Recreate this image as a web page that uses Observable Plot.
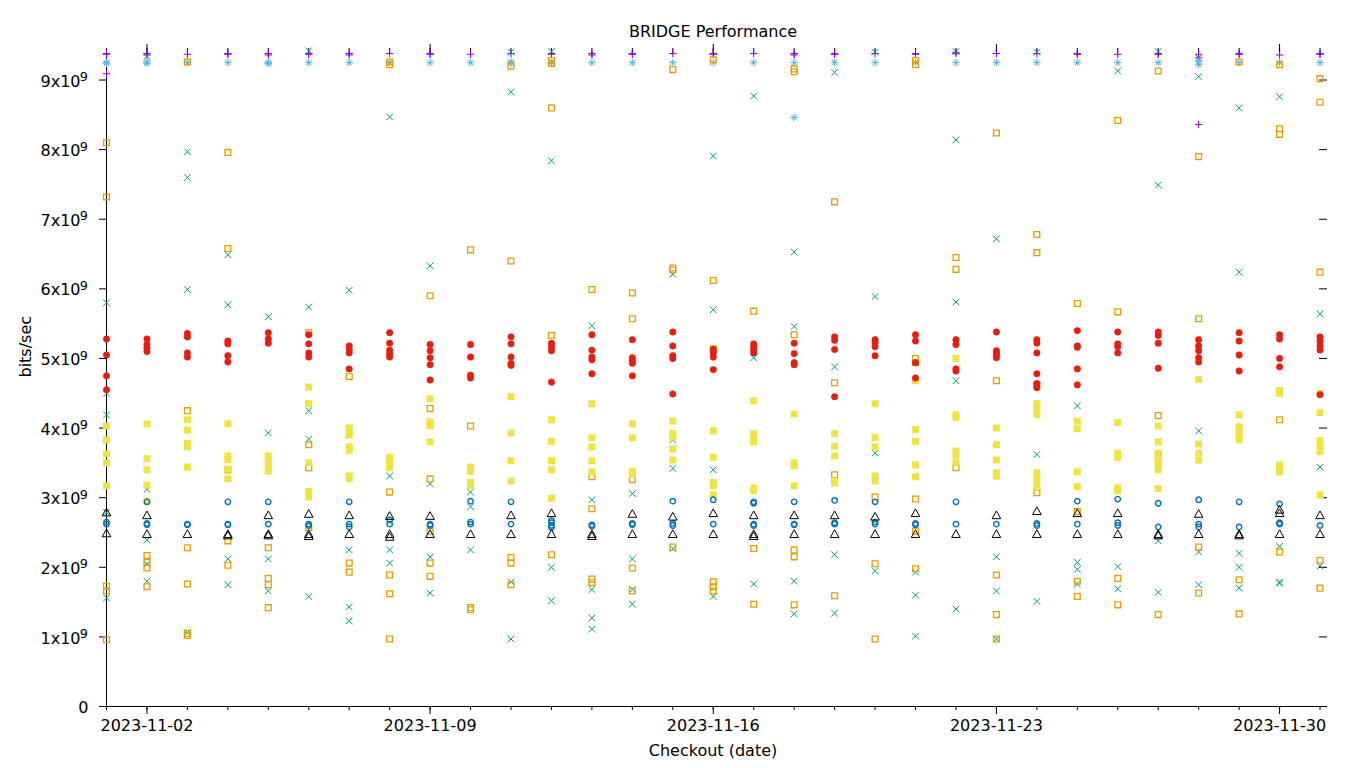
<!DOCTYPE html>
<html><head><meta charset="utf-8">
<script src="https://cdn.jsdelivr.net/npm/d3@7"></script>
<script src="https://cdn.jsdelivr.net/npm/@observablehq/plot@0.6"></script>
<style>html,body{margin:0;padding:0;background:#fff} svg{display:block}</style>
</head><body><div id="chart"></div>
<script>
// ---------------- data ----------------
const title = "BRIDGE Performance";
const xLabel = "Checkout (date)";
const yLabel = "bits/sec";
const days = ["2023-11-01","2023-11-02","2023-11-03","2023-11-04","2023-11-05","2023-11-06","2023-11-07","2023-11-08","2023-11-09","2023-11-10","2023-11-11","2023-11-12","2023-11-13","2023-11-14","2023-11-15","2023-11-16","2023-11-17","2023-11-18","2023-11-19","2023-11-20","2023-11-21","2023-11-22","2023-11-23","2023-11-24","2023-11-25","2023-11-26","2023-11-27","2023-11-28","2023-11-29","2023-11-30","2023-12-01"];
const xTickLabels = ["2023-11-02","2023-11-09","2023-11-16","2023-11-23","2023-11-30"];
const yTicks = [0,1e9,2e9,3e9,4e9,5e9,6e9,7e9,8e9,9e9];
const yTickLabels = ["0","1x10^9","2x10^9","3x10^9","4x10^9","5x10^9","6x10^9","7x10^9","8x10^9","9x10^9"];
const UNIT = 1e9; // series values below are in units of 10^9 bits/sec, one list per day

const purple = [[9.38,9.37,9.09],[9.38,9.36],[9.37],[9.38,9.37],[9.38,9.36],[9.38,9.37],[9.38,9.36],[9.38],[9.38,9.37],[9.37],[9.38],[9.38,9.37],[9.38,9.36],[9.38,9.37],[9.38],[9.38,9.37],[9.38],[9.38,9.36],[9.38,9.37],[9.38],[9.38,9.37],[9.40,9.38],[9.38],[9.38],[9.38,9.37],[9.37],[9.38,9.37],[9.37,9.32,8.36],[9.38,9.37],[9.36],[9.38,9.37]];
const green = [[5.80,4.50,4.19,2.79,1.56],[9.34,3.12,2.39,2.05,1.80],[7.97,7.60,5.99,1.06],[6.49,5.77,2.12,1.75],[5.60,3.93,2.12,1.66],[9.42,5.74,4.25,3.84,1.58],[5.98,2.25,1.43,1.23],[8.47,3.31,2.25,2.06],[6.33,3.20,2.15,1.63],[3.08,2.87,2.25],[9.40,8.83,1.79,0.97],[9.41,7.84,2.00,1.52],[5.47,2.97,1.68,1.27,1.11],[3.06,2.12,1.68,1.47],[6.21,3.83,3.42,2.27],[7.91,5.70,3.40,1.58],[8.77,5.01,1.76],[6.53,5.46,1.80,1.33],[9.11,4.88,2.18,1.34],[9.40,5.89,3.64,1.95],[1.93,1.60,1.01],[9.41,8.14,5.81,4.68,1.40],[6.72,2.15,1.66,0.97],[9.40,3.62,1.51],[4.32,2.07,1.97,1.76],[9.13,2.01,1.69],[9.41,7.49,2.38,1.64],[9.32,9.05,3.96,2.22,1.75],[8.60,6.24,2.20,2.00,1.70],[8.76,2.30,1.79,1.77],[5.64,3.44,2.02]];
const lightBlue = [[9.25,9.24],[9.26,9.24],[9.25],[9.25],[9.25,9.24],[9.25],[9.25],[9.25],[9.25],[9.25],[9.26,9.24],[9.25],[9.25],[9.25],[9.25],[9.25],[9.25],[9.25,8.46],[9.25],[9.25],[9.25],[9.25],[9.25],[9.25],[9.25],[9.25],[9.25],[9.27,9.22],[9.25],[9.25],[9.25]];
const orange = [[8.10,7.32,1.73,1.66,0.96],[2.17,2.07,1.99,1.72],[9.26,4.25,2.28,1.76,1.05,1.02],[7.96,6.58,3.40,2.38,2.03],[2.28,1.84,1.75,1.42],[5.37,3.76,3.43,2.57],[4.74,2.06,1.93],[9.26,9.22,3.08,1.89,1.62,0.97],[5.90,4.28,3.27,2.52,2.06,1.87],[6.56,4.03,1.42,1.39],[9.20,6.40,2.14,2.06,1.75],[9.28,9.24,8.60,5.33,2.18],[5.99,3.30,2.84,1.83,1.78],[5.94,5.57,3.26,1.99,1.66],[9.15,6.30,6.27,2.29],[9.29,6.12,5.14,1.79,1.72,1.66],[5.68,2.27,1.47],[9.16,9.12,5.34,2.25,2.15,1.46],[7.25,4.65,3.33,1.59],[3.01,2.05,0.97],[9.28,9.22,5.00,4.94,2.98,2.52,1.98],[6.45,6.28,3.43],[8.24,4.68,1.89,1.32,0.97],[6.78,6.52,4.62,3.07],[5.79,2.80,1.80,1.58],[8.42,5.67,1.84,1.46],[9.13,4.18,3.61,1.32],[7.90,5.57,2.29,1.63],[9.26,1.82,1.33],[9.22,8.30,8.22,4.12,2.22],[9.02,8.68,6.24,2.10,1.70]];
const yellow = [[4.03,3.83,3.63,3.50,3.17],[4.06,3.56,3.40,3.18,2.95],[4.12,3.97,3.78,3.73,3.44],[4.06,3.60,3.55,3.41,3.27],[3.60,3.53,3.45,3.38],[4.59,4.35,3.50,3.09,3.01],[4.00,3.94,3.90,3.73,3.68,3.31,3.27],[3.58,3.54,3.48,3.43],[4.42,4.09,4.05,4.03,3.80],[3.44,3.38,3.22,3.17],[4.45,3.93,3.53,3.24],[4.12,3.81,3.53,3.40,2.99],[4.35,3.86,3.73,3.53,3.37],[4.06,3.86,3.38,3.33],[4.10,3.92,3.87,3.70,3.54],[3.96,3.58,3.22,3.17,3.04],[4.39,3.92,3.85,3.80,3.14,3.10],[4.20,3.50,3.46,3.17],[3.92,3.74,3.60,3.24,3.21],[4.35,3.86,3.73,3.31,3.24],[4.68,3.98,3.81,3.47,3.30],[5.00,4.19,4.15,3.67,3.61,3.50],[4.00,3.76,3.54,3.36,3.31],[4.35,4.29,4.19,3.36,3.26,3.16],[4.10,3.99,3.37,3.16],[4.08,3.64,3.58,3.14,3.10],[4.03,3.80,3.64,3.54,3.49,3.40,3.13],[4.70,3.77,3.64,3.54],[4.19,4.02,3.96,3.89,3.83],[4.54,4.50,3.47,3.41,3.37],[4.50,4.22,3.82,3.73,3.66,3.04]];
const blue = [[2.65,2.62],[2.94,2.63,2.61],[2.62,2.61],[2.94,2.62,2.61],[2.94,2.62],[2.62,2.60],[2.94,2.62,2.58],[2.68,2.62],[2.62,2.60],[2.95,2.65,2.62],[2.94,2.62],[2.67,2.64,2.60,2.57],[2.61,2.59],[2.63,2.61],[2.95,2.63,2.60],[2.97,2.62],[2.94,2.92,2.62,2.60],[2.94,2.62,2.61],[2.96,2.64,2.62],[2.94,2.65,2.62],[2.63,2.61],[2.94,2.62],[2.62],[2.63,2.60],[2.95,2.62],[2.98,2.64,2.60],[2.92,2.58],[2.97,2.62,2.58],[2.94,2.58],[2.91,2.64,2.62],[2.60]];
const red = [[5.28,5.05,4.75,4.55],[5.28,5.20,5.15,5.10],[5.36,5.31,5.08,5.02],[5.25,5.21,5.04,4.95],[5.37,5.28,5.22],[5.34,5.21,5.08,5.02],[5.18,5.13,5.08,4.85],[5.37,5.22,5.12,5.07,5.02],[5.20,5.11,5.01,4.91,4.69],[5.20,5.02,4.76,4.72],[5.31,5.21,5.02,4.93,4.90],[5.22,5.17,5.11,4.66],[5.34,5.12,5.02,4.98,4.78],[5.27,5.01,4.97,4.93,4.75],[5.38,5.18,5.04,5.00,4.49],[5.13,5.08,5.02,4.84],[5.21,5.17,5.12,5.08],[5.22,5.07,4.94,4.91],[5.31,5.26,5.13,4.45],[5.27,5.23,5.17,5.04],[5.34,5.25,4.94,4.72],[5.27,5.20,4.85,4.82],[5.38,5.11,5.08,5.05,5.01],[5.27,5.22,5.08,4.78,4.64,4.58],[5.40,5.18,5.16,4.85,4.62],[5.38,5.21,5.17,5.08],[5.38,5.33,5.22,4.86],[5.27,5.18,5.11,5.01,4.95],[5.37,5.25,5.05,4.82],[5.34,5.28,5.00,4.88],[5.31,5.25,5.18,5.12,4.48]];
const black = [[2.79,2.49],[2.75,2.48],[2.48],[2.48,2.46],[2.75,2.48,2.46],[2.77,2.48,2.45],[2.75,2.48],[2.74,2.48,2.44],[2.74,2.48],[2.48],[2.75,2.48],[2.78,2.48],[2.48,2.45],[2.77,2.48],[2.73,2.48],[2.78,2.48],[2.75,2.48,2.45],[2.75,2.48],[2.75,2.48],[2.73,2.48],[2.78,2.48],[2.48],[2.75,2.48],[2.81,2.48],[2.78,2.48],[2.78,2.48],[2.48,2.46],[2.77,2.48],[2.48,2.46],[2.83,2.78,2.48],[2.75,2.48]];

// ---------------- helpers ----------------
const parse = d3.utcParse("%Y-%m-%d");
const dayDates = days.map(parse);
const majorDates = xTickLabels.map(parse);
function flat(series) {
  const out = [];
  series.forEach((vals, i) => vals.forEach(v => out.push({date: dayDates[i], value: v * UNIT})));
  return out;
}

// gnuplot-like point symbols (fixed pixel size)
const symPlus = {draw(c){const r=3.7;c.moveTo(-r,0);c.lineTo(r,0);c.moveTo(0,-r);c.lineTo(0,r);}};
const symTimes = {draw(c){const r=3.3;c.moveTo(-r,-r);c.lineTo(r,r);c.moveTo(-r,r);c.lineTo(r,-r);}};
const symStar = {draw(c){const r=3.8,s=2.8;c.moveTo(-r,0);c.lineTo(r,0);c.moveTo(0,-r);c.lineTo(0,r);c.moveTo(-s,-s);c.lineTo(s,s);c.moveTo(-s,s);c.lineTo(s,-s);}};
const symSquare = {draw(c){const r=2.9;c.rect(-r,-r,2*r,2*r);}};
const symBox = {draw(c){const r=3.5;c.rect(-r,-r,2*r,2*r);}};
const symCircle = {draw(c){const r=2.7;c.moveTo(r,0);c.arc(0,0,r,0,2*Math.PI);c.closePath();}};
const symDisc = {draw(c){const r=3.2;c.moveTo(r,0);c.arc(0,0,r,0,2*Math.PI);c.closePath();}};
const symTri = {draw(c){c.moveTo(0,-4.1);c.lineTo(4.3,3.6);c.lineTo(-4.3,3.6);c.closePath();}};

const W = 1360, H = 768, mL = 106, mR = 33, mT = 48, mB = 62;
const plotW = W - mL - mR, plotH = H - mT - mB;
const xStart = parse(days[0]);
const xEnd = new Date(parse(days[days.length - 1]).getTime() + 0.185 * 864e5);
const font = "DejaVu Sans";

const split = yTickLabels.map(s => s.split("^"));

const chart = Plot.plot({
  width: W, height: H,
  marginLeft: mL, marginRight: mR, marginTop: mT, marginBottom: mB,
  style: {fontFamily: font, fontSize: "16px", background: "#fff", color: "#000", overflow: "visible"},
  x: {type: "utc", domain: [xStart, xEnd], axis: null},
  y: {domain: [0, 9.453e9], axis: null},
  marks: [
    // axes lines & ticks
    Plot.ruleX([xStart], {x: d => d, stroke: "#000", strokeWidth: 1}),
    Plot.ruleY([0], {y: d => d, stroke: "#000", strokeWidth: 1}),
    Plot.ruleY(yTicks, {y: d => d, insetLeft: -7, insetRight: plotW, stroke: "#000"}),
    Plot.ruleY(yTicks.slice(1), {y: d => d, insetLeft: plotW - 8, stroke: "#000"}),
    Plot.ruleX(dayDates, {x: d => d, insetTop: plotH, insetBottom: -4, stroke: "#000"}),
    Plot.ruleX(majorDates, {x: d => d, insetTop: plotH, insetBottom: -8, stroke: "#000"}),
    Plot.ruleX(dayDates, {x: d => d, insetTop: 0, insetBottom: plotH - 5, stroke: "#000"}),
    Plot.ruleX(majorDates, {x: d => d, insetTop: -4, insetBottom: plotH - 5, stroke: "#000"}),
    // tick labels
    Plot.text(yTicks.filter((d, i) => split[i].length === 1), {y: d => d, frameAnchor: "left", text: d => split[yTicks.indexOf(d)][0], textAnchor: "end", dx: -18, dy: 1, fontSize: 16, fill: "#000"}),
    Plot.text(yTicks.filter((d, i) => split[i].length > 1), {y: d => d, frameAnchor: "left", text: d => split[yTicks.indexOf(d)][0], textAnchor: "end", dx: -26, dy: 1.5, fontSize: 16, fill: "#000"}),
    Plot.text(yTicks.filter((d, i) => split[i].length > 1), {y: d => d, frameAnchor: "left", text: d => split[yTicks.indexOf(d)][1], textAnchor: "end", dx: -18.5, dy: -3, fontSize: 12.8, fill: "#000"}),
    Plot.text(majorDates, {x: d => d, frameAnchor: "bottom", text: (d, i) => xTickLabels[i], dy: 24.5, fontSize: 16, fill: "#000"}),
    // titles
    Plot.text([title], {frameAnchor: "top", text: d => d, dx: -4, dy: -22.5, fontSize: 16, fill: "#000"}),
    Plot.text([xLabel], {frameAnchor: "bottom", text: d => d, dx: -4, dy: 49, fontSize: 16, fill: "#000"}),
    Plot.text([yLabel], {frameAnchor: "left", text: d => d, rotate: -90, dx: -81, fontSize: 16, fill: "#000"}),
    // data series (gnuplot order)
    Plot.dot(flat(purple), {x: "date", y: "value", symbol: symPlus, fill: "none", stroke: "#9400d3", strokeWidth: 1}),
    Plot.dot(flat(green), {x: "date", y: "value", symbol: symTimes, fill: "none", stroke: "#009e73", strokeWidth: 1}),
    Plot.dot(flat(lightBlue), {x: "date", y: "value", symbol: symStar, fill: "none", stroke: "#56b4e9", strokeWidth: 1}),
    Plot.dot(flat(orange), {x: "date", y: "value", symbol: symSquare, fill: "none", stroke: "#e69f00", strokeWidth: 1.3}),
    Plot.dot(flat(yellow), {x: "date", y: "value", symbol: symBox, fill: "#f0e442", stroke: "none"}),
    Plot.dot(flat(blue), {x: "date", y: "value", symbol: symCircle, fill: "none", stroke: "#0072b2", strokeWidth: 1.4}),
    Plot.dot(flat(red), {x: "date", y: "value", symbol: symDisc, fill: "#e51e10", stroke: "#e51e10", strokeWidth: 0.6}),
    Plot.dot(flat(black), {x: "date", y: "value", symbol: symTri, fill: "none", stroke: "#000", strokeWidth: 1})
  ]
});
document.getElementById("chart").appendChild(chart);
</script>
</body></html>
